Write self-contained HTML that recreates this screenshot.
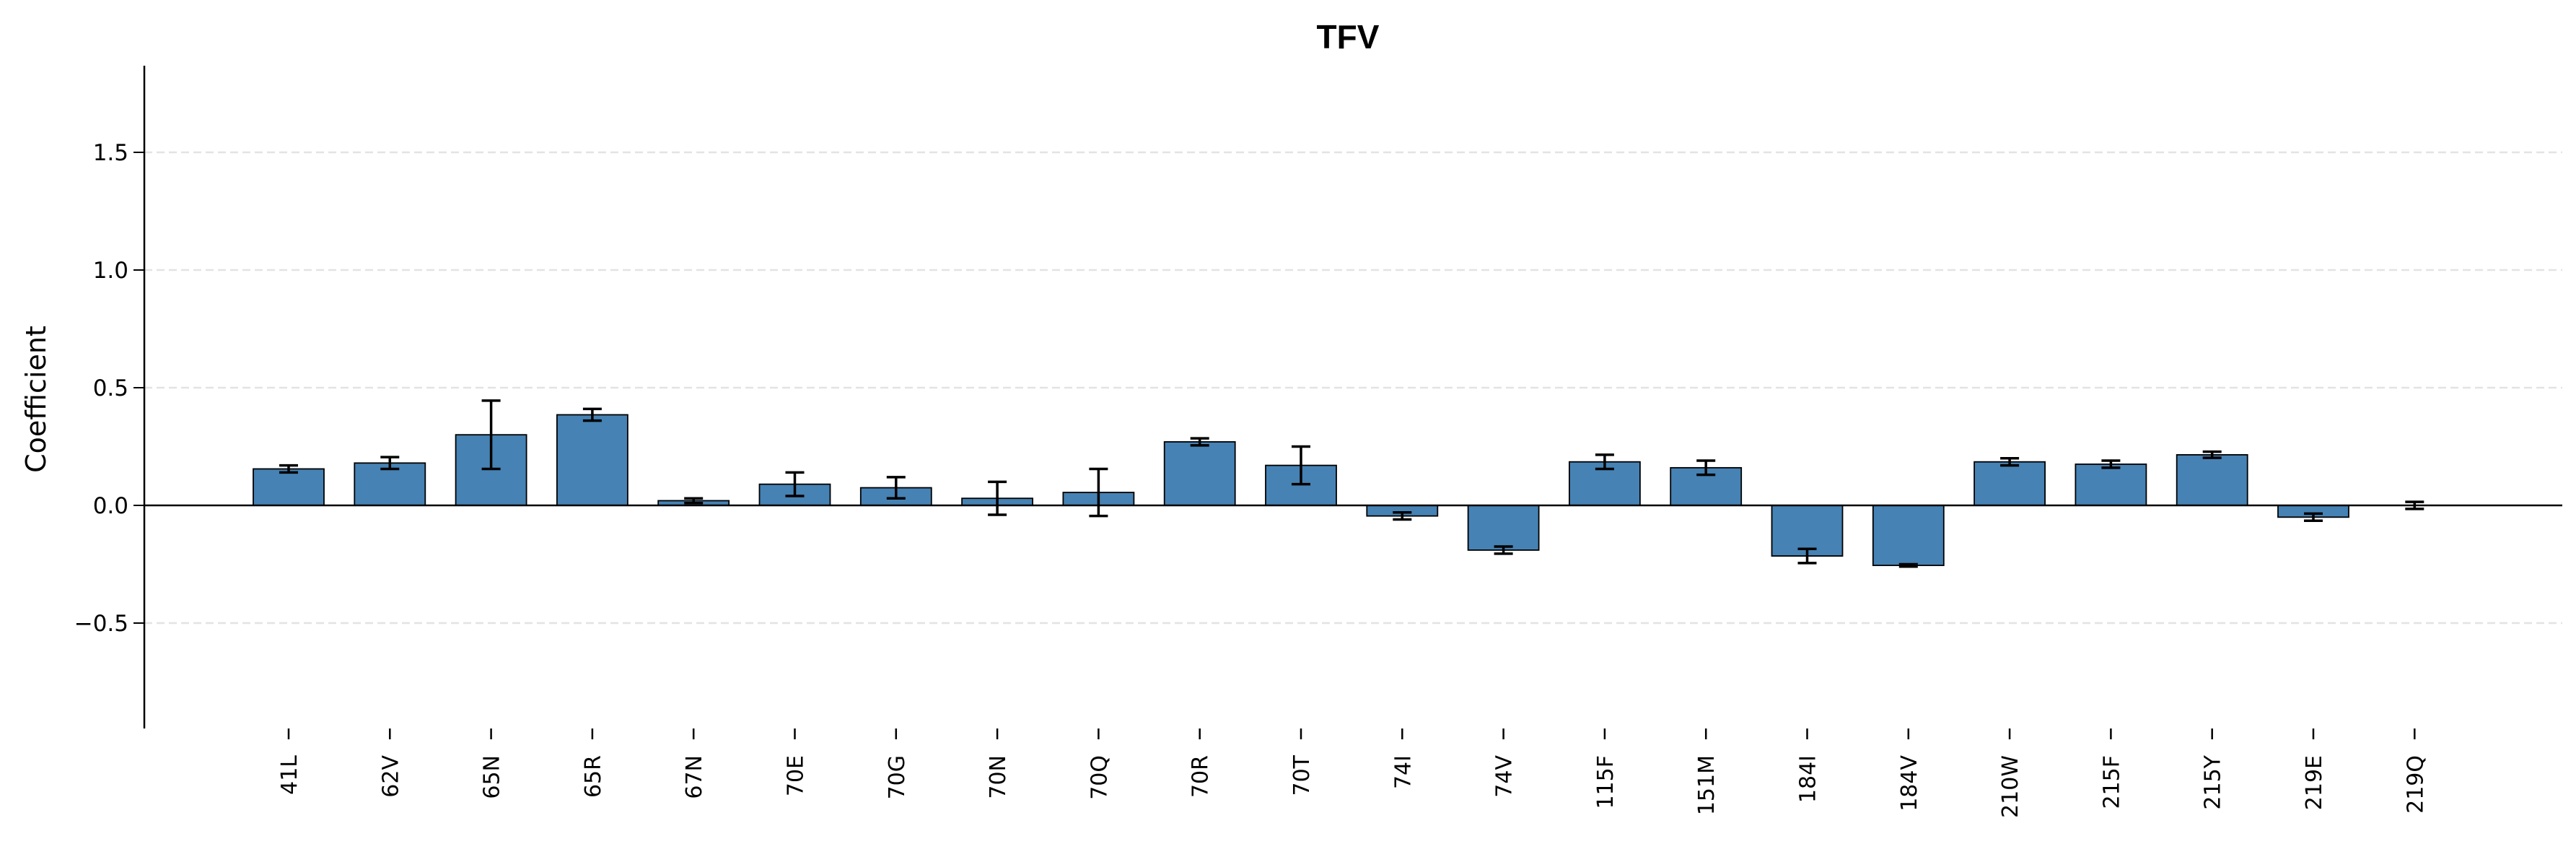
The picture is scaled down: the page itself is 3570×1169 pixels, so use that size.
<!DOCTYPE html>
<html><head><meta charset="utf-8"><style>
html,body{margin:0;padding:0;background:#fff}
svg{display:block}
text{font-family:"DejaVu Sans","Liberation Sans",sans-serif}
</style></head><body>
<svg id="chart" width="3570" height="1169" viewBox="0 0 3570 1169" xmlns="http://www.w3.org/2000/svg">
<text x="1868" y="67" text-anchor="middle" font-size="46" font-weight="bold" style="font-family:'Liberation Sans',sans-serif">TFV</text>
<text transform="translate(63,553) rotate(-90)" text-anchor="middle" font-size="38">Coefficient</text>
<g id="grid"></g><g id="bars"></g><g id="errs"></g><g id="axes"></g>
</svg>
<script>
const categories=["41L","62V","65N","65R","67N","70E","70G","70N","70Q","70R","70T","74I","74V","115F","151M","184I","184V","210W","215F","215Y","219E","219Q"];
const coefValues=[0.155,0.18,0.30,0.385,0.02,0.09,0.075,0.03,0.055,0.27,0.17,-0.045,-0.19,0.185,0.16,-0.215,-0.255,0.185,0.175,0.215,-0.05,0.0];
const errValues=[0.015,0.025,0.145,0.025,0.01,0.05,0.045,0.07,0.10,0.015,0.08,0.015,0.015,0.03,0.03,0.03,0.005,0.015,0.015,0.013,0.015,0.015];
const yTicks=[-0.5,0.0,0.5,1.0,1.5];
const yTickLabels=["\u22120.5","0.0","0.5","1.0","1.5"];
const NS="http://www.w3.org/2000/svg";
const X0=200,X1=3551,Y0=91,Y1=1009;
function xs(i){return 400+i*140.3;}
function ys(v){return 700-v*326;}
function mk(tag,attrs,parent){const e=document.createElementNS(NS,tag);for(const k in attrs)e.setAttribute(k,attrs[k]);document.getElementById(parent).appendChild(e);return e;}
yTicks.forEach((t,i)=>{
  if(t!==0){const g=mk('line',{x1:X0,x2:X1,y1:ys(t),y2:ys(t),stroke:'#e3e3e3','stroke-width':2.5,'stroke-dasharray':'11 6'},'grid');
  
  }
  const tk=mk('line',{x1:X0-15,x2:X0,y1:ys(t),y2:ys(t),stroke:'#000','stroke-width':2},'axes');
  
  
  const tl=mk('text',{x:X0-22,y:ys(t)+11,'text-anchor':'end','font-size':31},'axes');
  tl.textContent=yTickLabels[i];
  
  
});
const bw=98;
categories.forEach((c,i)=>{
  const v=coefValues[i],e=errValues[i],x=xs(i);
  const top=Math.min(ys(v),ys(0)),h=Math.abs(ys(v)-ys(0));
  const b=mk('rect',{x:x-bw/2,y:top,width:bw,height:h,fill:'#4682b4',stroke:'#000','stroke-width':1.8},'bars');
  
  
  const g=mk('g',{stroke:'#000','stroke-width':3.5},'errs');
  
  
  const lo=ys(v-e),hi=ys(v+e);
  [[x,x,hi,lo],[x-13,x+13,hi,hi],[x-13,x+13,lo,lo]].forEach(a=>{const l=document.createElementNS(NS,'line');l.setAttribute('x1',a[0]);l.setAttribute('x2',a[1]);l.setAttribute('y1',a[2]);l.setAttribute('y2',a[3]);g.appendChild(l);});
  const tk=mk('line',{x1:x,x2:x,y1:Y1,y2:Y1+15,stroke:'#000','stroke-width':2.5},'axes');
  
  
  const tl=mk('text',{transform:`translate(${x+11},${Y1+37}) rotate(-90)`,'text-anchor':'end','font-size':30},'axes');
  tl.textContent=c;
  
  
});
const zl=mk('line',{x1:X0,x2:X1,y1:ys(0),y2:ys(0),stroke:'#000','stroke-width':2.5},'axes');


const ya=mk('line',{x1:X0,x2:X0,y1:Y0,y2:Y1,stroke:'#000','stroke-width':2.5},'axes');


</script>
</body></html>
